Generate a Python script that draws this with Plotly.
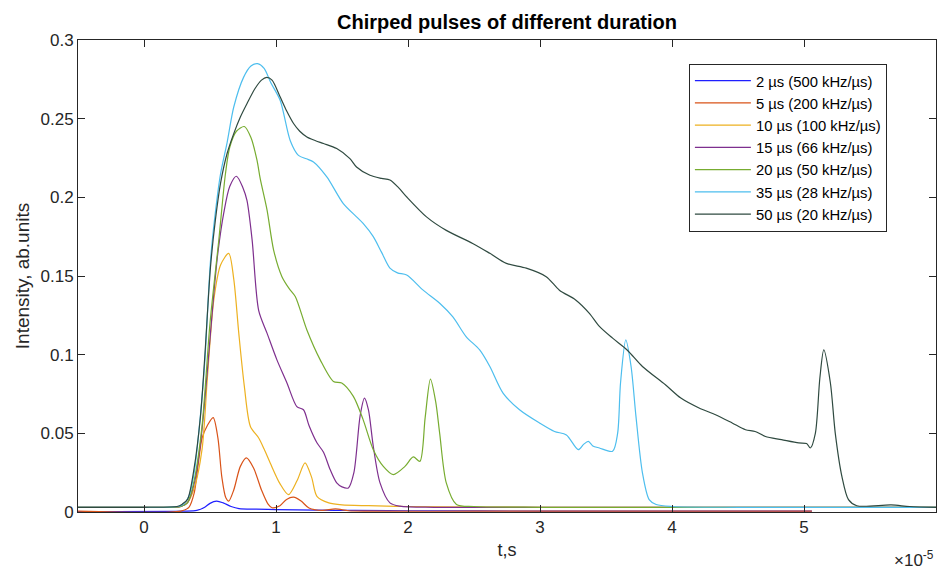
import plotly.graph_objects as go

# ---------------- data (time in microseconds, intensity in a.u.) ----------------
t_2us = [-5, 3.0, 4.0, 4.6, 5.0, 5.5, 6.0, 6.6, 7.2, 8.5, 10, 13, 16, 20, 30, 40, 50.6]
y_2us = [0.0003, 0.0005, 0.001, 0.003, 0.0055, 0.0069, 0.0058, 0.0035, 0.0022, 0.0018, 0.0015,
         0.0012, 0.001, 0.0008, 0.0006, 0.0005, 0.0005]

t_5us = [-5, 2.8, 3.4, 3.8, 4.1, 4.4, 4.8, 5.24, 5.6, 5.9, 6.2, 6.42, 6.8, 7.3, 7.76, 8.3, 8.9,
         9.4, 9.7, 10.3, 10.8, 11.33, 11.9, 12.5, 13.5, 14.5, 15.5, 17, 25, 40, 50.6]
y_5us = [0.0005, 0.0006, 0.003, 0.012, 0.03, 0.047, 0.055, 0.060, 0.047, 0.022, 0.009, 0.0069,
         0.014, 0.029, 0.0344, 0.028, 0.014, 0.005, 0.0027, 0.004, 0.008, 0.0094, 0.007, 0.0025,
         0.001, 0.002, 0.0008, 0.0005, 0.0005, 0.0005, 0.0005]

t_10us = [-5, 0, 2.8, 3.3, 3.8, 4.4, 4.8, 5.29, 5.8, 6.42, 6.8, 7.18, 7.6, 8.06, 8.69, 9.1, 9.57,
          10.3, 10.95, 11.6, 12.2, 12.7, 13.1, 14.0, 15, 17, 20, 30, 45, 60]
y_10us = [0.003, 0.003, 0.0035, 0.006, 0.015, 0.04, 0.085, 0.135, 0.157, 0.1644, 0.148, 0.1137,
          0.08, 0.0544, 0.047, 0.040, 0.031, 0.018, 0.011, 0.020, 0.0312, 0.022, 0.010, 0.0058,
          0.0045, 0.004, 0.0035, 0.003, 0.003, 0.003]

t_15us = [-5, 0, 2.8, 3.3, 3.8, 4.3, 4.8, 5.3, 5.6, 6.04, 6.5, 7.0, 7.5, 7.8, 8.19, 8.69, 9.32,
          10.07, 10.83, 11.58, 12.08, 12.5, 13.1, 13.6, 14.1, 14.6, 15.0, 15.48, 15.9, 16.37, 16.7,
          17.0, 17.37, 17.88, 18.63, 19.4, 22, 30, 45, 60]
y_15us = [0.003, 0.003, 0.0035, 0.006, 0.018, 0.045, 0.09, 0.14, 0.165, 0.19, 0.207, 0.2134,
          0.206, 0.198, 0.173, 0.128, 0.1137, 0.0967, 0.082, 0.067, 0.065, 0.055, 0.044, 0.038,
          0.027, 0.0185, 0.016, 0.0153, 0.025, 0.061, 0.0724, 0.065, 0.0418, 0.0185, 0.0058,
          0.0037, 0.003, 0.003, 0.003, 0.003]

t_20us = [-5, 0, 2.8, 3.3, 3.8, 4.4, 5.0, 5.67, 6.17, 6.5, 7.0, 7.6, 8.1, 8.56, 8.8, 9.32, 9.82,
          10.45, 11.0, 11.46, 12.34, 13.35, 14.35, 14.98, 15.86, 16.6, 17.37, 18.13, 18.88, 19.77,
          20.4, 20.9, 21.3, 21.7, 22.1, 22.4, 22.9, 23.67, 25, 30, 45, 60]
y_20us = [0.003, 0.003, 0.0035, 0.006, 0.02, 0.055, 0.12, 0.173, 0.215, 0.232, 0.242, 0.245,
          0.238, 0.2236, 0.212, 0.192, 0.1665, 0.1496, 0.142, 0.137, 0.1157, 0.0967, 0.083, 0.082,
          0.0735, 0.0587, 0.0396, 0.029, 0.0238, 0.029, 0.035, 0.0322, 0.06, 0.0845, 0.07, 0.050,
          0.0185, 0.0048, 0.0035, 0.003, 0.003, 0.003]

t_35us = [-5, 0, 2.6, 3.0, 3.4, 3.8, 4.28, 4.6, 5.04, 5.4, 5.8, 6.3, 6.8, 7.55, 8.1, 8.6, 9.1,
          9.6, 10.32, 11.08, 11.7, 12.3, 12.84, 13.85, 15.1, 16.1, 16.6, 17.37, 18.0, 18.63, 19.2,
          19.9, 21.15, 22.4, 23.4, 24.4, 25.43, 26.2, 27.2, 28.45, 29.96, 31.1, 32.0, 32.9, 33.3,
          33.66, 34.0, 34.5, 35.5, 35.88, 36.1, 36.5, 36.9, 37.27, 37.76, 38.27, 38.8, 40, 45, 50,
          55, 60]
y_35us = [0.003, 0.003, 0.0035, 0.005, 0.01, 0.025, 0.062, 0.095, 0.16, 0.19, 0.215, 0.235,
          0.2574, 0.2764, 0.2835, 0.285, 0.282, 0.273, 0.2616, 0.236, 0.2267, 0.2245, 0.2225,
          0.213, 0.196, 0.1876, 0.1834, 0.175, 0.165, 0.155, 0.152, 0.1506, 0.141, 0.1327, 0.124,
          0.1115, 0.103, 0.0925, 0.0756, 0.065, 0.0566, 0.0512, 0.049, 0.0396, 0.043, 0.0449,
          0.042, 0.0407, 0.0386, 0.050, 0.082, 0.1094, 0.0925, 0.0608, 0.0249, 0.0079, 0.0048,
          0.0035, 0.003, 0.003, 0.003, 0.003]

t_50us = [-5, 0, 2.5, 2.9, 3.3, 3.8, 4.28, 4.6, 5.04, 5.4, 5.8, 6.3, 6.8, 7.3, 7.8, 8.4, 8.9,
          9.3, 9.7, 10.32, 10.8, 11.33, 11.8, 12.34, 13.0, 13.6, 14.6, 15.6, 16.1, 17.12, 18.0,
          18.63, 19.3, 19.9, 21.4, 22.9, 24.9, 26.2, 27.45, 28.96, 30.47, 31.47, 32.7, 33.74,
          34.5, 35.5, 36.6, 37.76, 39.5, 40.67, 42.05, 43.3, 44.56, 45.57, 46.3, 47.08, 48.3,
          49.6, 50.2, 50.48, 50.86, 51.2, 51.5, 52.0, 52.37, 52.87, 53.37, 54, 56.6, 58, 60]
y_50us = [0.003, 0.003, 0.0035, 0.005, 0.008, 0.028, 0.061, 0.098, 0.156, 0.185, 0.209, 0.228,
          0.2405, 0.251, 0.2595, 0.269, 0.2745, 0.2762, 0.2745, 0.2637, 0.255, 0.2469, 0.242,
          0.2384, 0.236, 0.2342, 0.231, 0.2246, 0.2193, 0.214, 0.212, 0.211, 0.206, 0.2003,
          0.1876, 0.179, 0.1707, 0.1644, 0.158, 0.155, 0.1496, 0.141, 0.1348, 0.1263, 0.118,
          0.1105, 0.103, 0.0925, 0.0809, 0.0724, 0.0661, 0.0618, 0.0566, 0.0523, 0.0512, 0.048,
          0.046, 0.0439, 0.0435, 0.0407, 0.050, 0.085, 0.103, 0.082, 0.050, 0.0227, 0.0079,
          0.004, 0.0045, 0.0035, 0.003]

series_names = ["2 µs (500 kHz/µs)", "5 µs (200 kHz/µs)", "10 µs (100 kHz/µs)",
                "15 µs (66 kHz/µs)", "20 µs (50 kHz/µs)", "35 µs (28 kHz/µs)",
                "50 µs (20 kHz/µs)"]
series_t = [t_2us, t_5us, t_10us, t_15us, t_20us, t_35us, t_50us]
series_y = [y_2us, y_5us, y_10us, y_15us, y_20us, y_35us, y_50us]
series_colors = ["#1f1fff", "#D95319", "#EDB120", "#7E2F8E", "#77AC30", "#4DBEEE", "#2F4A40"]

x_tick_vals = [0, 1e-5, 2e-5, 3e-5, 4e-5, 5e-5]
x_tick_text = ["0", "1", "2", "3", "4", "5"]
y_tick_vals = [0, 0.05, 0.1, 0.15, 0.2, 0.25, 0.3]
y_tick_text = ["0", "0.05", "0.1", "0.15", "0.2", "0.25", "0.3"]

FONT = "Liberation Sans, Arial, Helvetica, sans-serif"
AXC = "#262626"

fig = go.Figure()
for i, (name, t, y, c) in enumerate(zip(series_names, series_t, series_y, series_colors)):
    fig.add_trace(go.Scatter(
        x=[v * 1e-6 for v in t], y=y, name=name, mode="lines",
        line=dict(color=c, width=1.2, shape="spline", smoothing=0.8),
    ))

fig.update_layout(
    width=937, height=569,
    margin=dict(l=78, r=1, t=40, b=57),
    paper_bgcolor="white", plot_bgcolor="white",
    font=dict(family=FONT, color=AXC),
    title=dict(text="<b>Chirped pulses of different duration</b>", x=0.5, xref="paper",
               xanchor="center", y=1 - 22 / 569, yanchor="middle",
               font=dict(size=20, color="black", family=FONT)),
    showlegend=True,
    legend=dict(x=0.712, y=0.95, xanchor="left", yanchor="top",
                bgcolor="white", bordercolor=AXC, borderwidth=1,
                font=dict(size=14.8, color="black", family=FONT),
                itemwidth=56),
    xaxis=dict(range=[-5e-6, 6e-5], tickvals=x_tick_vals, ticktext=x_tick_text,
               showline=True, linecolor=AXC, linewidth=1, mirror="ticks",
               ticks="inside", ticklen=7, tickcolor=AXC, showgrid=False, zeroline=False,
               tickfont=dict(size=17, color=AXC),
               title=dict(text="t,s", font=dict(size=18, color=AXC), standoff=6)),
    yaxis=dict(range=[0, 0.3], tickvals=y_tick_vals, ticktext=y_tick_text,
               showline=True, linecolor=AXC, linewidth=1, mirror="ticks",
               ticks="inside", ticklen=7, tickcolor=AXC, showgrid=False, zeroline=False,
               tickfont=dict(size=17, color=AXC),
               title=dict(text="Intensity, ab.units", font=dict(size=19, color=AXC), standoff=5)),
)

fig.add_annotation(text="×10<sup>-5</sup>", xref="paper", yref="paper", x=1.0, y=-0.072,
                   xanchor="right", yanchor="top", showarrow=False,
                   font=dict(size=17, color=AXC, family=FONT))

fig.write_html("out.html")
